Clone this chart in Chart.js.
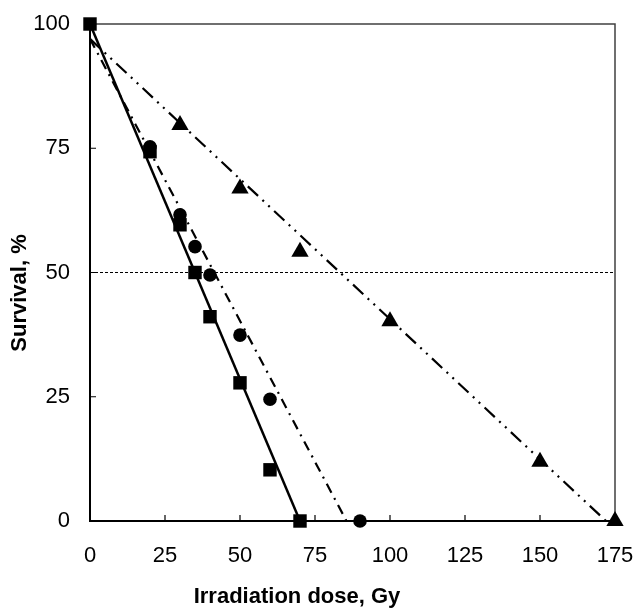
<!DOCTYPE html>
<html>
<head>
<meta charset="utf-8">
<script src="https://cdn.jsdelivr.net/npm/chart.js@4"></script>
<style>
  html, body { margin: 0; padding: 0; background: #fff; }
  #wrap { width: 638px; height: 608px; }
</style>
</head>
<body>
<div id="wrap"><canvas id="chart" width="638" height="608"></canvas></div>
<script>
// measured points
const squareDose = [0, 20, 30, 35, 40, 50, 60, 70];
const squareSurv = [100, 74.3, 59.6, 50, 41.1, 27.8, 10.3, 0];

const circleDose = [20, 30, 35, 40, 50, 60, 90];
const circleSurv = [75.3, 61.6, 55.2, 49.5, 37.4, 24.5, 0];

const triangleDose = [30, 50, 70, 100, 150, 175];
const triangleSurv = [79.7, 66.9, 54.2, 40.2, 11.9, 0];

// fitted lines (end points)
const squareFitDose = [0, 70];
const squareFitSurv = [100, 0];
const circleFitDose = [0, 85.5];
const circleFitSurv = [97, 0];
const triangleFitDose = [0, 172];
const triangleFitSurv = [97, 0];

// 50 % reference
const halfDose = [0, 175];
const halfSurv = [50, 50];

const xTicks = [0, 25, 50, 75, 100, 125, 150, 175];
const yTicks = [0, 25, 50, 75, 100];

const xTitle = 'Irradiation dose, Gy';
const yTitle = 'Survival, %';

const pts = (xs, ys) => xs.map((x, i) => ({ x: x, y: ys[i] }));

const fontFamily = 'Liberation Sans, Arial, sans-serif';

// frame on top/right, inward tick marks, axis titles
const framePlugin = {
  id: 'frame',
  beforeDatasetsDraw(chart) {
    const { ctx, chartArea: a, scales } = chart;
    ctx.save();
    ctx.strokeStyle = '#404040';
    ctx.lineWidth = 1.5;
    ctx.beginPath();
    ctx.moveTo(a.left, a.top);
    ctx.lineTo(a.right, a.top);
    ctx.lineTo(a.right, a.bottom);
    ctx.stroke();

    ctx.strokeStyle = '#000';
    ctx.lineWidth = 1.2;
    ctx.beginPath();
    xTicks.forEach(v => {
      const px = scales.x.getPixelForValue(v);
      ctx.moveTo(px, a.bottom);
      ctx.lineTo(px, a.bottom - 6);
    });
    yTicks.forEach(v => {
      const py = scales.y.getPixelForValue(v);
      ctx.moveTo(a.left, py);
      ctx.lineTo(a.left + 6, py);
    });
    ctx.stroke();

    // titles (the original sits a bit off the plot centre)
    ctx.fillStyle = '#000';
    ctx.font = 'bold 22px ' + fontFamily;
    ctx.textAlign = 'center';
    ctx.textBaseline = 'middle';
    ctx.fillText(xTitle, 297, 597);
    ctx.translate(20, 293);
    ctx.rotate(-Math.PI / 2);
    ctx.fillText(yTitle, 0, 0);
    ctx.restore();
  }
};

const tickFont = { family: fontFamily, size: 22 };

new Chart(document.getElementById('chart'), {
  type: 'scatter',
  data: {
    datasets: [
      {
        data: pts(squareDose, squareSurv),
        pointStyle: 'rect', pointRadius: 9.5, backgroundColor: '#000', borderColor: '#000',
        borderWidth: 0, showLine: false, order: 0, clip: false
      },
      {
        data: pts(circleDose, circleSurv),
        pointStyle: 'circle', pointRadius: 6.8, backgroundColor: '#000', borderColor: '#000',
        borderWidth: 0, showLine: false, order: 0, clip: false
      },
      {
        data: pts(triangleDose, triangleSurv),
        pointStyle: 'triangle', pointRadius: 10, backgroundColor: '#000', borderColor: '#000',
        borderWidth: 0, showLine: false, order: 0, clip: false
      },
      {
        data: pts(squareFitDose, squareFitSurv),
        showLine: true, pointRadius: 0, borderColor: '#000', borderWidth: 2.5, order: 1
      },
      {
        data: pts(circleFitDose, circleFitSurv),
        showLine: true, pointRadius: 0, borderColor: '#000', borderWidth: 2.2,
        borderDash: [10, 6, 2, 6], order: 1
      },
      {
        data: pts(triangleFitDose, triangleFitSurv),
        showLine: true, pointRadius: 0, borderColor: '#000', borderWidth: 2.2,
        borderDash: [14, 6, 2, 6, 2, 6], order: 1
      },
      {
        data: pts(halfDose, halfSurv),
        showLine: true, pointRadius: 0, borderColor: '#000', borderWidth: 1,
        borderDash: [3, 2], order: 2
      }
    ]
  },
  options: {
    responsive: false,
    animation: false,
    layout: { padding: { top: 24, right: 23, left: 0, bottom: 0 } },
    plugins: { legend: { display: false }, tooltip: { enabled: false } },
    scales: {
      x: {
        type: 'linear', min: 0, max: 175,
        grid: { display: false, drawTicks: false },
        border: { display: true, color: '#000', width: 2 },
        ticks: { stepSize: 25, color: '#000', font: tickFont, padding: 22, maxRotation: 0 },
        afterFit: s => { s.height = 87; s.paddingLeft = 0; s.paddingRight = 0; }
      },
      y: {
        type: 'linear', min: 0, max: 100,
        grid: { display: false, drawTicks: false },
        border: { display: true, color: '#000', width: 2 },
        ticks: { stepSize: 25, color: '#000', font: tickFont, padding: 20 },
        afterFit: s => { s.width = 90; s.paddingTop = 0; s.paddingBottom = 0; }
      }
    }
  },
  plugins: [framePlugin]
});
</script>
</body>
</html>
